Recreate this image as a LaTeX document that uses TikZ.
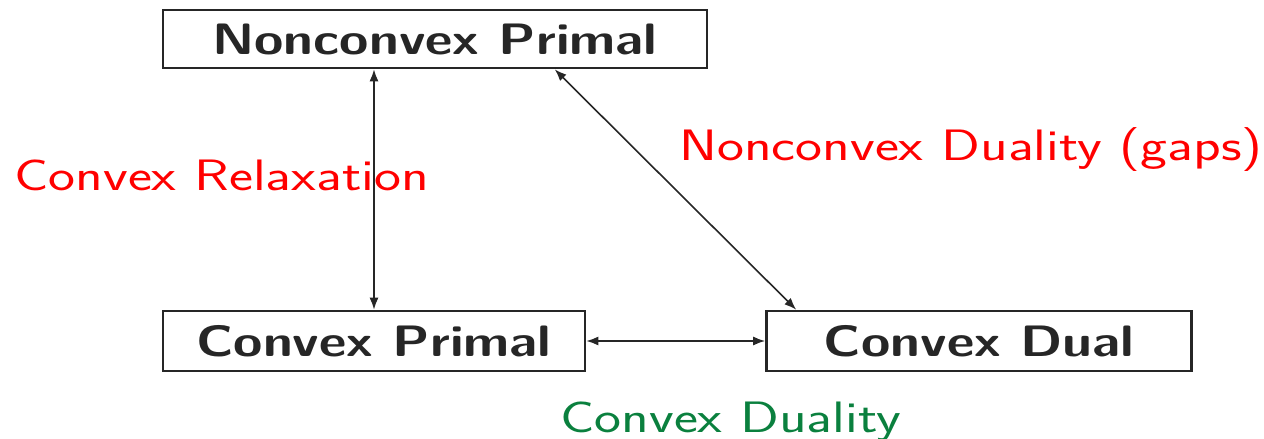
\documentclass[tikz,border=0pt]{standalone}
\usepackage{fontspec}
\newfontfamily\boxfont[FakeStretch=1.21]{Latin Modern Sans}
\newfontfamily\lblfont[FakeStretch=1.30]{Latin Modern Sans}
\usetikzlibrary{arrows.meta,calc}
\definecolor{dgreen}{RGB}{10,128,62}
\tikzset{
  box/.style={draw=black!85, line width=1.3pt, rectangle, inner sep=0pt,
    font=\fontsize{22}{26}\selectfont\boxfont\bfseries, text=black!85},
  conn/.style={black!85, line width=0.8pt, {Latex[length=6pt,width=4.5pt]}-{Latex[length=6pt,width=4.5pt]}},
  lbl/.style={anchor=base west, inner sep=0pt, font=\fontsize{22}{26}\selectfont\lblfont}
}
\begin{document}
\begin{tikzpicture}[x=0.5pt,y=-0.5pt]
\useasboundingbox (0,0) rectangle (1264,439);
\node[box, minimum width=272pt, minimum height=29pt] (NP) at (435,39) {Nonconvex Primal};
\node[box, minimum width=211pt, minimum height=30pt] (CP) at (374,341) {Convex Primal};
\node[box, minimum width=212.5pt, minimum height=30pt] (CD) at (979,341) {Convex Dual};
\coordinate (NPd) at ($(NP.south west)+(393,0)$);
\coordinate (CDd) at ($(CD.north west)+(31,0)$);
\draw[conn] (NP.south -| CP.north) -- (CP.north);
\draw[conn] (NPd) -- (CDd);
\draw[conn] (CP.east) -- (CD.west);
\node[lbl, text=red] (LR) at (14,190) {Convex Relaxation};
\node[lbl, text=red] (LN) at (679,160) {Nonconvex Duality (gaps)};
\node[lbl, text=dgreen] (LC) at (560,432) {Convex Duality};
\end{tikzpicture}
\end{document}
